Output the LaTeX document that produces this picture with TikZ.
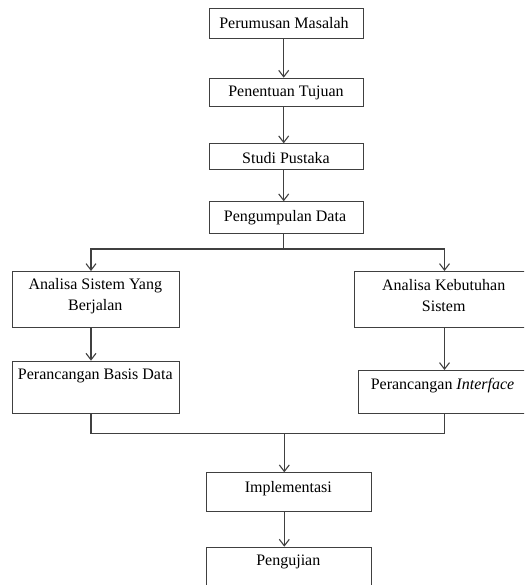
\documentclass[tikz,border=0pt]{standalone}
\usepackage{fontspec}
\setmainfont{Liberation Serif}
\usetikzlibrary{arrows.meta}
\begin{document}
\begin{tikzpicture}[x=1pt,y=-1pt,
  box/.style={draw=black!75, line width=1.1pt, inner sep=0pt, anchor=north west,
    font=\fontsize{16}{21}\selectfont, align=center},
  lbl/.style={inner sep=0pt, font=\fontsize{16}{21}\selectfont, align=center},
  conn/.style={draw=black!75, line width=1.1pt},
  arr/.style={conn, -{Straight Barb[length=6.5pt,width=10pt,line width=1.1pt]}}]
\useasboundingbox (0,0) rectangle (524,585);
\clip (0,0) rectangle (524,585);
\node[box, minimum width=154, minimum height=29.7] (pm) at (209,8) {};
\node[lbl] (pmt) at (284,23) {Perumusan Masalah};
\node[box, minimum width=154, minimum height=28.3] (pt) at (209,77.7) {};
\node[lbl] (ptt) at (286,93) {Penentuan Tujuan};
\node[box, minimum width=154, minimum height=25.7] (sp) at (209,143.3) {};
\node[lbl] (spt) at (286,158.5) {Studi Pustaka};
\node[box, minimum width=154, minimum height=32] (pd) at (209,201.3) {};
\node[lbl] (pdt) at (285,217.5) {Pengumpulan Data};
\node[box, minimum width=167.3, minimum height=55.7] (asy) at (11.7,271) {};
\node[lbl] (asyt) at (95.3,296) {Analisa Sistem Yang\\Berjalan};
\node[box, minimum width=178.7, minimum height=55.7] (akb) at (354.3,271) {};
\node[lbl] (akbt) at (443.7,296) {Analisa Kebutuhan\\Sistem};
\node[box, minimum width=167.3, minimum height=52.6] (pbd) at (11.7,360.7) {};
\node[lbl] (pbdt) at (95.3,375.7) {Perancangan Basis Data};
\node[box, minimum width=168.7, minimum height=43.3] (pi) at (358.3,370) {};
\node[lbl] (pit) at (442.5,385.7) {Perancangan \textit{Interface}};
\node[box, minimum width=165.3, minimum height=38.4] (impl) at (205.7,472.3) {};
\node[lbl] (implt) at (288.3,489) {Implementasi};
\node[box, minimum width=165.3, minimum height=55] (peng) at (205.7,546.7) {};
\node[lbl] (pengt) at (288.3,561.7) {Pengujian};

\coordinate (split) at (283.7,249);
\coordinate (bl) at (91,249);
\coordinate (br) at (444.5,249);
\coordinate (ml) at (91,433.3);
\coordinate (mr) at (444.5,433.3);
\coordinate (mc) at (284.3,433.3);

\draw[arr] (pm.south -| split) -- (pt.north -| split);
\draw[arr] (pt.south -| split) -- (sp.north -| split);
\draw[arr] (sp.south -| split) -- (pd.north -| split);
\draw[conn] (pd.south -| split) -- (split);
\draw[arr] (split) -- (bl) -- (bl |- asy.north);
\draw[arr] (split) -- (br) -- (br |- akb.north);
\draw[arr] (bl |- asy.south) -- (bl |- pbd.north);
\draw[arr] (br |- akb.south) -- (br |- pi.north);
\draw[conn] (bl |- pbd.south) -- (ml) -- (mr) -- (br |- pi.south);
\draw[arr] (mc) -- (mc |- impl.north);
\draw[arr] (impl.south -| mc) -- (mc |- peng.north);
\end{tikzpicture}
\end{document}
